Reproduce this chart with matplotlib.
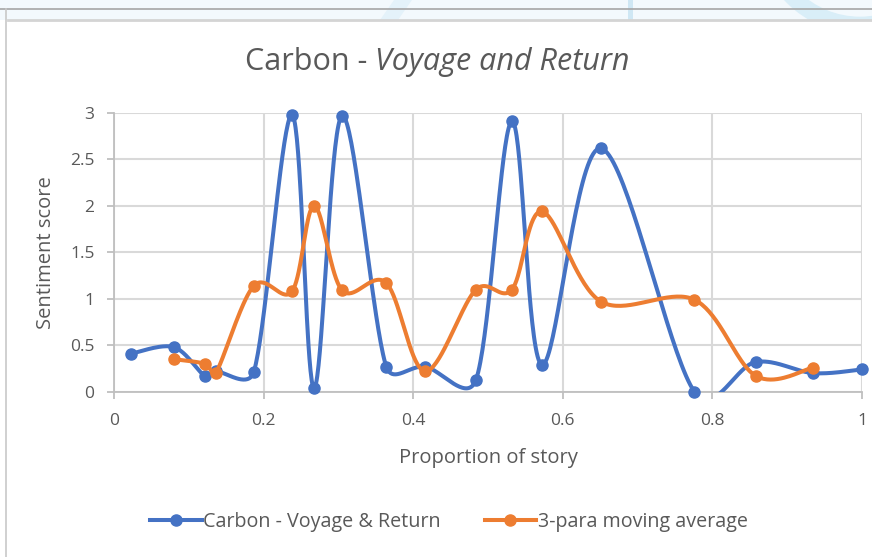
import numpy as np
import matplotlib
matplotlib.use('Agg')
import matplotlib.pyplot as plt
from matplotlib.patches import Rectangle, Arc, Polygon
from matplotlib.lines import Line2D

# 데이터
x_pos = [0.023, 0.080, 0.1215, 0.136, 0.187, 0.238, 0.2675, 0.305, 0.364, 0.416,
         0.484, 0.532, 0.572, 0.651, 0.776, 0.858, 0.935, 1.0]
carbon = [0.41, 0.48, 0.17, 0.22, 0.215, 2.98, 0.04, 2.97, 0.27, 0.27,
          0.13, 2.91, 0.29, 2.62, 0.0, 0.32, 0.20, 0.24]

x_avg = [0.080, 0.1215, 0.136, 0.187, 0.238, 0.2675, 0.305, 0.364, 0.416,
         0.484, 0.532, 0.572, 0.651, 0.776, 0.858, 0.935]
moving_avg = [0.35, 0.30, 0.20, 1.14, 1.08, 2.0, 1.09, 1.17, 0.22,
              1.10, 1.10, 1.94, 0.97, 0.99, 0.17, 0.26]

x_ticks = [0, 0.2, 0.4, 0.6, 0.8, 1]
x_ticklabels = ['0', '0.2', '0.4', '0.6', '0.8', '1']
y_ticks = [0, 0.5, 1, 1.5, 2, 2.5, 3]
y_ticklabels = ['0', '0.5', '1', '1.5', '2', '2.5', '3']

BLUE = '#4472C4'
ORANGE = '#ED7D31'
TXT = '#595959'
GRID = '#d9d9d9'

plt.rcParams['font.family'] = ['Open Sans', 'DejaVu Sans']


def smooth(ax, xs, ys, n=40):
    # 엑셀 스타일 부드러운 선: 화면 좌표에서 베지어, 제어점 길이는 구간 길이의 절반으로 제한
    p = ax.transData.transform(np.column_stack([xs, ys]))
    p = np.vstack([p[0], p, p[-1]])
    segs = []
    t = np.linspace(0, 1, n)[:, None]
    for i in range(1, len(p) - 2):
        p0, p1, p2, p3 = p[i - 1], p[i], p[i + 1], p[i + 2]
        d12 = np.hypot(*(p2 - p1))
        v1 = (p2 - p0) / 6
        v2 = (p3 - p1) / 6
        for v in (v1, v2):
            L = np.hypot(*v)
            if L > d12 / 2 and L > 0:
                v *= (d12 / 2) / L
        c1 = p1 + v1
        c2 = p2 - v2
        segs.append((1 - t)**3 * p1 + 3 * (1 - t)**2 * t * c1 + 3 * (1 - t) * t**2 * c2 + t**3 * p2)
    s = ax.transData.inverted().transform(np.vstack(segs))
    return s[:, 0], s[:, 1]


W, H = 872, 557
fig = plt.figure(figsize=(W / 100, H / 100), dpi=100)
fig.patch.set_facecolor('white')


def fx(px):
    return px / W


def fy(py):
    return 1 - py / H


# 바깥 테두리 장식 (위쪽 띠)
tf = fig.transFigure
fig.add_artist(Rectangle((0, fy(20)), 1, 20 / H, transform=tf,
                         facecolor='#f3f9fd', edgecolor='none', zorder=0))
fig.add_artist(Polygon([(fx(380), fy(20)), (fx(398), fy(20)), (fx(412), fy(0)), (fx(394), fy(0))],
                       transform=tf, facecolor='#e4f2fa', edgecolor='none', zorder=0.1))
fig.add_artist(Rectangle((fx(628), fy(20)), 5 / W, 20 / H, transform=tf,
                         facecolor='#cfe7f4', edgecolor='none', zorder=0.1))
fig.add_artist(Arc((fx(860), fy(-70)), 190 / W, 190 / H, theta1=180, theta2=360,
                   transform=tf, color='#d9eef8', lw=12, zorder=0.1))
fig.add_artist(Rectangle((fx(8), 0), 1, fy(20), transform=tf,
                         facecolor='white', edgecolor='none', zorder=0.2))
fig.add_artist(Line2D([0, 1], [fy(9), fy(9)], transform=tf, color='#a6a6a6', lw=1.2))
fig.add_artist(Line2D([fx(8), 1], [fy(20), fy(20)], transform=tf, color='#d4d4d4', lw=2))
fig.add_artist(Line2D([fx(6), fx(6)], [0, fy(9)], transform=tf, color='#c8c8c8', lw=1.2))

ax = fig.add_axes([fx(114), fy(391.7), fx(862 - 114), (391.7 - 113) / H])
ax.set_zorder(2)
ax.set_xlim(0, 1)
ax.set_ylim(0, 3)

sx, sy = smooth(ax, x_pos, carbon)
ax.plot(sx, sy, color=BLUE, lw=2.9, zorder=3)
ax.plot(x_pos, carbon, 'o', color=BLUE, ms=8, zorder=4, clip_on=False)

ox, oy = smooth(ax, x_avg, moving_avg)
ax.plot(ox, oy, color=ORANGE, lw=2.9, zorder=5)
ax.plot(x_avg, moving_avg, 'o', color=ORANGE, ms=8, zorder=6, clip_on=False)

ax.set_xticks(x_ticks)
ax.set_xticklabels(x_ticklabels)
ax.set_yticks(y_ticks)
ax.set_yticklabels(y_ticklabels)
ax.grid(True, color=GRID, lw=1.5)
ax.set_axisbelow(True)
for s in ['top', 'right']:
    ax.spines[s].set_visible(False)
for s in ['left', 'bottom']:
    ax.spines[s].set_color('#bfbfbf')
    ax.spines[s].set_linewidth(1.3)
ax.tick_params(colors='#bfbfbf', labelcolor=TXT, labelsize=12.5, length=5, width=1.3)
ax.tick_params(axis='x', pad=10)
ax.tick_params(axis='y', pad=9)

ax.set_xlabel('Proportion of story', color=TXT, fontsize=14.5, labelpad=14)
ax.set_ylabel('Sentiment score', color=TXT, fontsize=14.5, labelpad=10)

fig.text(fx(375), fy(62), 'Carbon - ', ha='right', va='center', fontsize=22, color=TXT, zorder=3)
fig.text(fx(375), fy(62), 'Voyage and Return', ha='left', va='center', fontsize=22,
         color=TXT, style='italic', zorder=3)

handles = [Line2D([], [], color=BLUE, lw=2.9, marker='o', ms=8),
           Line2D([], [], color=ORANGE, lw=2.9, marker='o', ms=8)]
leg = fig.legend(handles, ['Carbon - Voyage & Return', '3-para moving average'],
                 loc='center', bbox_to_anchor=(fx(449), fy(522)), ncol=2, frameon=False,
                 fontsize=14.2, handlelength=2.6, handletextpad=0.1, columnspacing=2.2)
leg.set_zorder(3)
for t in leg.get_texts():
    t.set_color(TXT)

fig.savefig('out.png', dpi=100)
